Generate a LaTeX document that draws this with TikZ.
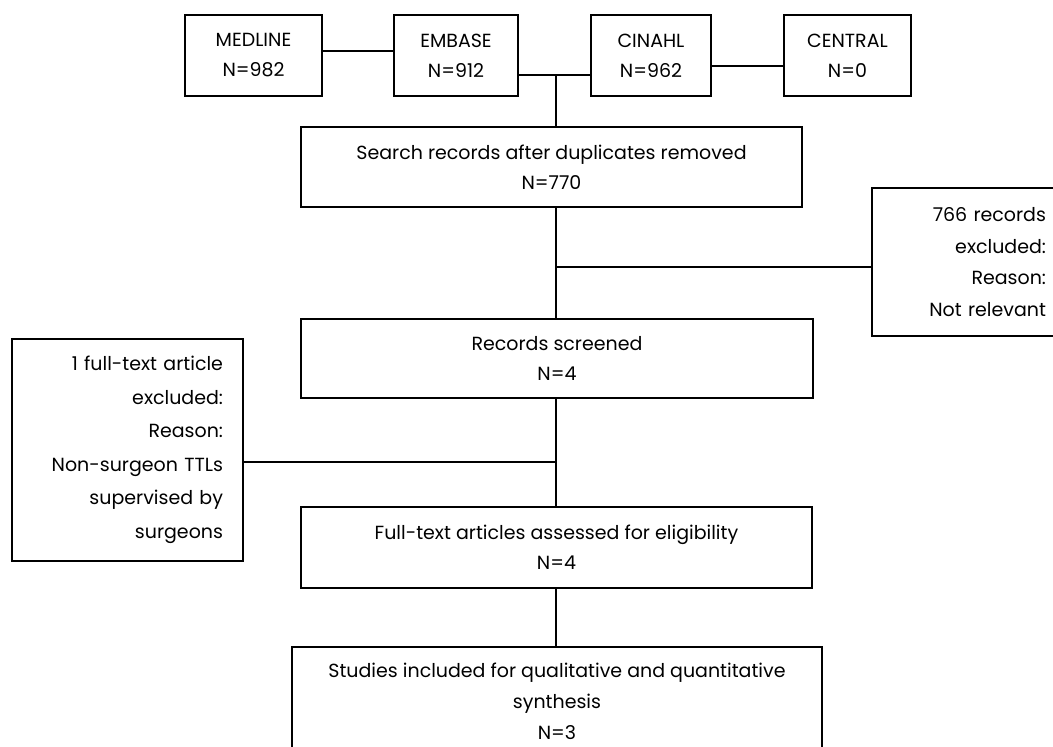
\documentclass[tikz,border=0pt]{standalone}
\usepackage{fontspec}
\setmainfont{Poppins}
\begin{document}
\begin{tikzpicture}[x=1pt,y=-1pt,
  box/.style={draw=black, line width=1.3pt, inner sep=0pt, align=center,
    font=\fontsize{19}{30}\selectfont},
  rbox/.style={draw=black, line width=1.3pt, inner xsep=20pt, inner ysep=0pt, align=right,
    font=\fontsize{19}{31.5}\selectfont},
  link/.style={draw=black, line width=1.3pt}]
\useasboundingbox (0,0) rectangle (1053,747);
\node[box, minimum width=137pt, minimum height=81pt] (medline) at (253.5,55.5) {MEDLINE\\N=982};
\node[box, minimum width=124pt, minimum height=81pt] (embase) at (456,55.5) {EMBASE\\N=912};
\node[box, minimum width=120pt, minimum height=81pt] (cinahl) at (651,55.5) {CINAHL\\N=962};
\node[box, minimum width=127pt, minimum height=81pt] (central) at (847.5,55.5) {CENTRAL\\N=0};
\node[box, minimum width=501pt, minimum height=80pt] (search) at (551.5,167) {Search records after duplicates removed\\N=770};
\node[rbox, text width=154pt, minimum height=148pt] (excla) at (969,262) {766 records\\excluded:\\Reason:\\Not relevant};
\node[box, minimum width=512pt, minimum height=79pt] (records) at (557,358.5) {Records screened\\N=4};
\node[rbox, text width=191pt, minimum height=222pt, font=\fontsize{19}{33.5}\selectfont] (exclb) at (127.5,450) {1 full-text article\\excluded:\\Reason:\\Non-surgeon TTLs\\supervised by\\surgeons};
\node[box, minimum width=511pt, minimum height=81pt] (fulltext) at (556.5,547.5) {Full-text articles assessed for eligibility\\N=4};
\node[box, minimum width=530pt, minimum height=108pt, font=\fontsize{19}{31}\selectfont] (studies) at (557,701) {Studies included for qualitative and quantitative\\synthesis\\N=3};
\coordinate (j1) at (556,75);
\coordinate (j2) at (556,267);
\coordinate (j3) at (556,462);
\draw[link] ([yshift=4.5pt]medline.east) -- ([yshift=4.5pt]embase.west);
\draw[link] ([yshift=-19.5pt]embase.east) -- ([yshift=-19.5pt]cinahl.west);
\draw[link] ([yshift=-10.5pt]cinahl.east) -- ([yshift=-10.5pt]central.west);
\draw[link] (j1) -- (j1 |- search.north);
\draw[link] (j1 |- search.south) -- (j1 |- records.north);
\draw[link] (j2) -- (j2 -| excla.west);
\draw[link] (j1 |- records.south) -- (j1 |- fulltext.north);
\draw[link] (j3) -- (j3 -| exclb.east);
\draw[link] (j1 |- fulltext.south) -- (j1 |- studies.north);
\end{tikzpicture}
\end{document}
